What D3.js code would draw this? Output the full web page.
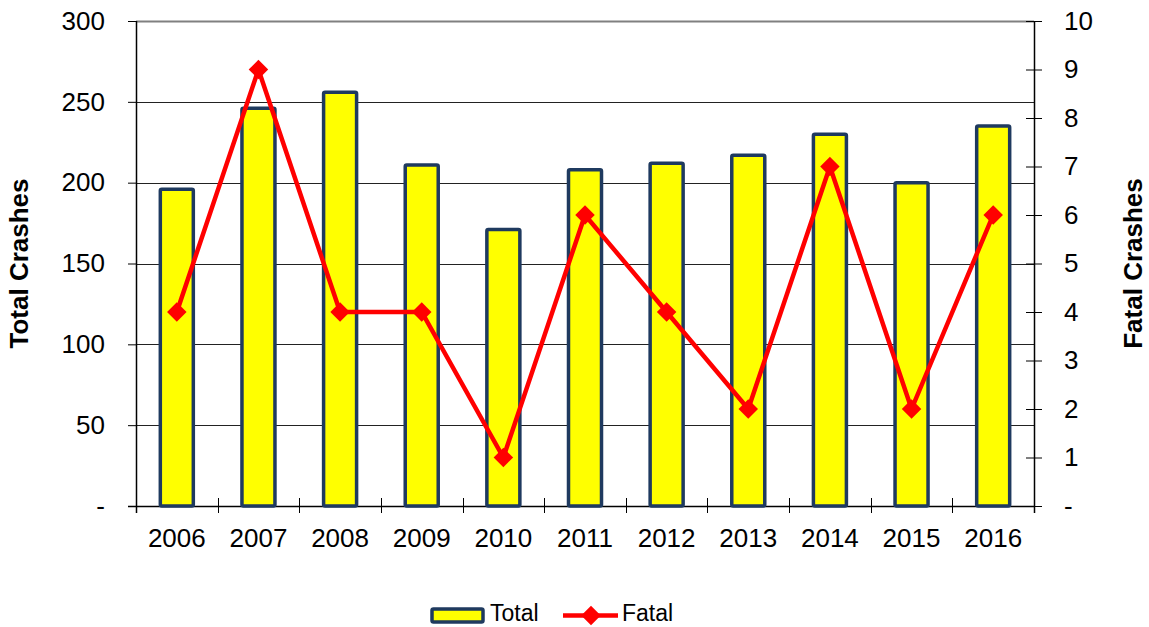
<!DOCTYPE html>
<html>
<head>
<meta charset="utf-8">
<script src="https://cdn.jsdelivr.net/npm/d3@7"></script>
<style>
  html, body { margin: 0; padding: 0; background: #fff; }
  svg { display: block; font-family: "Liberation Sans", Arial, sans-serif; }
</style>
</head>
<body>
<svg id="chart" width="1149" height="627"></svg>
<script>
// Yearly crash counts
const years = ["2006","2007","2008","2009","2010","2011","2012","2013","2014","2015","2016"];
const totalCrashes = [196, 246, 256, 211, 171, 208, 212, 217, 230, 200, 235];
const fatalCrashes = [4, 9, 4, 4, 1, 6, 4, 2, 7, 2, 6];
const leftTicks = [0, 50, 100, 150, 200, 250, 300];
const rightTicks = [0, 1, 2, 3, 4, 5, 6, 7, 8, 9, 10];

const svg = d3.select("#chart");
const plot = { left: 136, right: 1034, top: 21, bottom: 506 };

const x = d3.scaleBand().domain(years).range([plot.left, plot.right]).padding(0);
const yL = d3.scaleLinear().domain([0, 300]).range([plot.bottom, plot.top]);
const yR = d3.scaleLinear().domain([0, 10]).range([plot.bottom, plot.top]);

const fmt = v => v === 0 ? "-" : String(v);

// Horizontal gridlines
svg.append("g")
  .selectAll("line")
  .data(leftTicks.filter(v => v > 0))
  .join("line")
  .attr("x1", plot.left).attr("x2", plot.right)
  .attr("y1", d => Math.round(yL(d)) + 0.5).attr("y2", d => Math.round(yL(d)) + 0.5)
  .attr("stroke", d => d === 300 ? "#808080" : "#222")
  .attr("stroke-width", d => d === 300 ? 2 : 1);

// Left axis
const leftAxis = svg.append("g")
  .attr("transform", `translate(${plot.left},0)`)
  .call(d3.axisLeft(yL).tickValues(leftTicks).tickFormat(fmt).tickSize(8).tickPadding(23));
leftAxis.select(".domain").remove();
leftAxis.selectAll(".tick line").attr("stroke", "#000");
leftAxis.selectAll(".tick text").attr("font-size", 26).attr("fill", "#000")
  .attr("font-family", "Liberation Sans, Arial, sans-serif");
svg.append("line").attr("x1", plot.left + 0.5).attr("x2", plot.left + 0.5)
  .attr("y1", plot.top).attr("y2", plot.bottom + 7).attr("stroke", "#000").attr("stroke-width", 1.5);

// Right axis
const rightAxis = svg.append("g")
  .attr("transform", `translate(${plot.right},0)`)
  .call(d3.axisRight(yR).tickValues(rightTicks).tickFormat(fmt).tickSize(8).tickPadding(22));
rightAxis.select(".domain").remove();
rightAxis.selectAll(".tick line").attr("x1", -8).attr("stroke", "#000");
rightAxis.selectAll(".tick text").attr("font-size", 26).attr("fill", "#000")
  .attr("font-family", "Liberation Sans, Arial, sans-serif");
svg.append("line").attr("x1", plot.right + 0.5).attr("x2", plot.right + 0.5)
  .attr("y1", plot.top).attr("y2", plot.bottom + 7).attr("stroke", "#000").attr("stroke-width", 1.5);

// Bottom axis with category dividers
svg.append("line").attr("x1", plot.left - 8).attr("x2", plot.right)
  .attr("y1", plot.bottom + 0.5).attr("y2", plot.bottom + 0.5).attr("stroke", "#000").attr("stroke-width", 1.5);
svg.append("g").selectAll("line")
  .data(years.slice(1))
  .join("line")
  .attr("x1", d => Math.round(x(d)) + 0.5).attr("x2", d => Math.round(x(d)) + 0.5)
  .attr("y1", plot.bottom - 8).attr("y2", plot.bottom + 7)
  .attr("stroke", "#000");
svg.append("g").selectAll("text")
  .data(years)
  .join("text")
  .attr("x", d => x(d) + x.bandwidth() / 2)
  .attr("y", 547)
  .attr("text-anchor", "middle")
  .attr("font-size", 26)
  .text(d => d);

// Bars
const barW = 33;
svg.append("g").selectAll("rect")
  .data(years.map((y, i) => ({ year: y, v: totalCrashes[i] })))
  .join("rect")
  .attr("x", d => x(d.year) + x.bandwidth() / 2 - barW / 2)
  .attr("width", barW)
  .attr("y", d => yL(d.v))
  .attr("height", d => plot.bottom - yL(d.v))
  .attr("fill", "#FFFF00")
  .attr("stroke", "#1F3A5F")
  .attr("stroke-width", 3.5)
  .attr("rx", 1.5);

// Fatal line with diamond markers
const pts = years.map((y, i) => ({ year: y, v: fatalCrashes[i] }));
svg.append("path")
  .datum(pts)
  .attr("fill", "none")
  .attr("stroke", "#FF0000")
  .attr("stroke-width", 4.5)
  .attr("stroke-linejoin", "miter")
  .attr("d", d3.line().x(d => x(d.year) + x.bandwidth() / 2).y(d => yR(d.v)));
const marker = d3.symbol().type(d3.symbolSquare).size(190);
svg.append("g").selectAll("path")
  .data(pts)
  .join("path")
  .attr("transform", d => `translate(${x(d.year) + x.bandwidth() / 2},${yR(d.v)}) rotate(45)`)
  .attr("d", marker)
  .attr("fill", "#FF0000");

// Axis titles
svg.append("text")
  .attr("transform", `translate(28,${(plot.top + plot.bottom) / 2}) rotate(-90)`)
  .attr("text-anchor", "middle")
  .attr("font-size", 26).attr("font-weight", "bold")
  .text("Total Crashes");
svg.append("text")
  .attr("transform", `translate(1142,${(plot.top + plot.bottom) / 2}) rotate(-90)`)
  .attr("text-anchor", "middle")
  .attr("font-size", 26).attr("font-weight", "bold")
  .text("Fatal Crashes");

// Legend
const lg = svg.append("g");
lg.append("rect").attr("x", 432).attr("y", 609).attr("width", 51).attr("height", 13)
  .attr("fill", "#FFFF00").attr("stroke", "#1F3A5F").attr("stroke-width", 3.5).attr("rx", 1.5);
lg.append("text").attr("x", 490).attr("y", 621).attr("font-size", 23).text("Total");
lg.append("line").attr("x1", 563).attr("x2", 618).attr("y1", 615.5).attr("y2", 615.5)
  .attr("stroke", "#FF0000").attr("stroke-width", 4.5);
lg.append("path").attr("transform", "translate(591,615.5) rotate(45)")
  .attr("d", marker).attr("fill", "#FF0000");
lg.append("text").attr("x", 622).attr("y", 621).attr("font-size", 23).text("Fatal");
</script>
</body>
</html>
